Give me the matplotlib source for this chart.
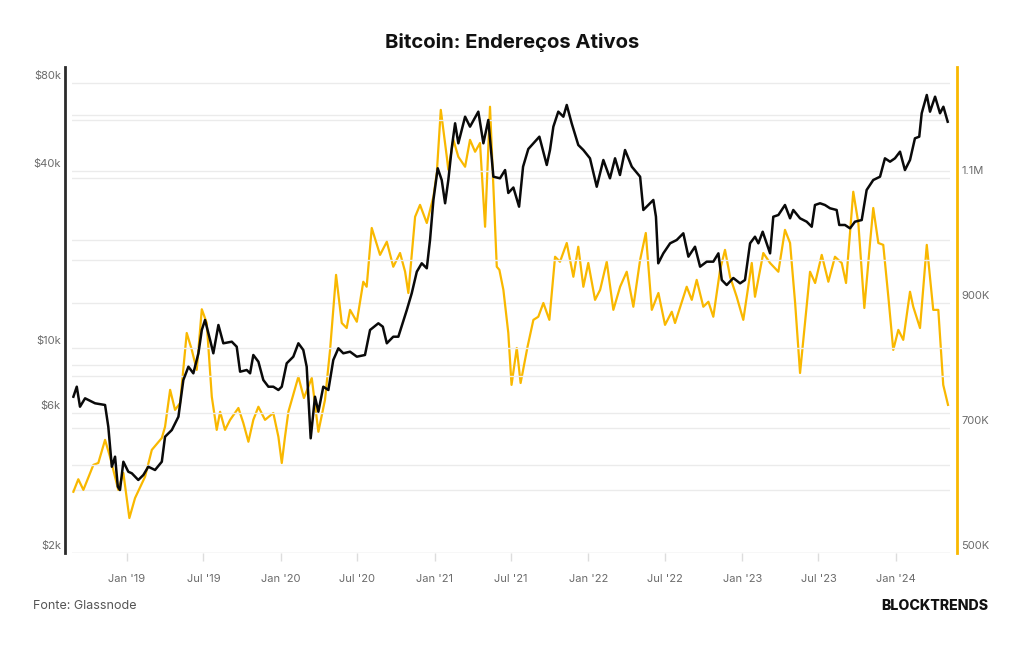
import matplotlib
matplotlib.use("Agg")
import matplotlib.pyplot as plt
import matplotlib.transforms as mtransforms
from matplotlib.ticker import FixedLocator, FixedFormatter, NullLocator
import numpy as np
import pandas as pd

plt.rcParams['font.family'] = ['Inter', 'DejaVu Sans']

# ---- data (decimal year, value) ----
price_years = [2018.651, 2018.673, 2018.694, 2018.727, 2018.792, 2018.857, 2018.878, 2018.901,
               2018.922, 2018.940, 2018.954, 2018.976, 2019.008, 2019.031, 2019.073, 2019.106,
               2019.138, 2019.182, 2019.226, 2019.247, 2019.291, 2019.334, 2019.366, 2019.399,
               2019.431, 2019.464, 2019.486, 2019.507, 2019.540, 2019.561, 2019.594, 2019.626,
               2019.681, 2019.713, 2019.735, 2019.778, 2019.800, 2019.821, 2019.854, 2019.886,
               2019.919, 2019.951, 2019.984, 2020.006, 2020.038, 2020.081, 2020.114, 2020.146,
               2020.168, 2020.194, 2020.222, 2020.244, 2020.276, 2020.309, 2020.341, 2020.374,
               2020.406, 2020.450, 2020.494, 2020.547, 2020.580, 2020.634, 2020.663, 2020.689,
               2020.731, 2020.764, 2020.819, 2020.851, 2020.884, 2020.916, 2020.949, 2020.970,
               2020.992, 2021.020, 2021.046, 2021.068, 2021.089, 2021.111, 2021.133, 2021.154,
               2021.198, 2021.230, 2021.284, 2021.317, 2021.349, 2021.382, 2021.425, 2021.458,
               2021.479, 2021.512, 2021.549, 2021.575, 2021.609, 2021.642, 2021.681, 2021.729,
               2021.750, 2021.772, 2021.804, 2021.837, 2021.859, 2021.891, 2021.934, 2021.967,
               2022.010, 2022.054, 2022.097, 2022.140, 2022.173, 2022.205, 2022.238, 2022.282,
               2022.336, 2022.357, 2022.389, 2022.422, 2022.439, 2022.454, 2022.487, 2022.531,
               2022.574, 2022.617, 2022.650, 2022.693, 2022.726, 2022.769, 2022.812, 2022.845,
               2022.867, 2022.899, 2022.942, 2022.986, 2023.018, 2023.051, 2023.083, 2023.105,
               2023.133, 2023.159, 2023.181, 2023.202, 2023.235, 2023.278, 2023.311, 2023.332,
               2023.376, 2023.419, 2023.452, 2023.473, 2023.506, 2023.538, 2023.571, 2023.614,
               2023.631, 2023.668, 2023.701, 2023.733, 2023.777, 2023.809, 2023.852, 2023.896,
               2023.928, 2023.961, 2023.993, 2024.026, 2024.058, 2024.091, 2024.123, 2024.151,
               2024.167, 2024.200, 2024.221, 2024.254, 2024.286, 2024.308, 2024.336]
price_usd = [6820, 7378, 6306, 6736, 6477, 6392, 5390, 3937,
             4260, 3366, 3279, 4095, 3786, 3739, 3548, 3689,
             3937, 3837, 4095, 4983, 5252, 5830, 7777, 8633,
             8196, 9591, 11517, 12456, 10647, 9591, 11976, 10374,
             10505, 10100, 8300, 8412, 8196, 9464, 8978, 7777,
             7378, 7378, 7190, 7378, 8866, 9338, 10374, 9842,
             8633, 4921, 6820, 6063, 7378, 7190, 9100, 9973,
             9591, 9712, 9338, 9464, 11517, 12136, 11819, 10374,
             10925, 10925, 13474, 15358, 18196, 19440, 18692, 23340,
             31960, 40980, 37380, 31140, 37380, 47940, 58340, 49860,
             61440, 56820, 63920, 49860, 59880, 38360, 37880, 40420,
             33760, 35240, 30320, 41500, 47680, 49860, 52520, 42060,
             47300, 56820, 63920, 61440, 67360, 58340, 49200, 47300,
             44320, 35460, 43740, 37880, 44320, 38880, 47300, 41500,
             38360, 29540, 30720, 31960, 28020, 19440, 21020, 22740,
             23340, 24600, 20480, 22140, 18930, 19690, 19690, 21020,
             17050, 16390, 17320, 16610, 17050, 22740, 23950, 22740,
             24910, 22740, 21020, 28020, 28400, 30720, 27670, 29540,
             27670, 26950, 25900, 30720, 31140, 30720, 29940, 29540,
             26260, 26260, 25580, 26950, 27300, 34560, 37380, 38360,
             44320, 43160, 44320, 46690, 40420, 43740, 51840, 52520,
             63120, 72860, 63920, 71900, 63120, 66440, 59060]

addr_years = [2018.651, 2018.683, 2018.716, 2018.781, 2018.813, 2018.857, 2018.889, 2018.943,
              2018.976, 2019.015, 2019.052, 2019.117, 2019.161, 2019.226, 2019.247, 2019.280,
              2019.312, 2019.345, 2019.388, 2019.421, 2019.453, 2019.486, 2019.518, 2019.551,
              2019.583, 2019.605, 2019.637, 2019.670, 2019.724, 2019.756, 2019.789, 2019.821,
              2019.854, 2019.897, 2019.951, 2019.984, 2020.006, 2020.027, 2020.049, 2020.114,
              2020.150, 2020.201, 2020.244, 2020.287, 2020.320, 2020.359, 2020.396, 2020.428,
              2020.450, 2020.494, 2020.536, 2020.558, 2020.591, 2020.645, 2020.689, 2020.731,
              2020.775, 2020.808, 2020.829, 2020.873, 2020.905, 2020.949, 2020.992, 2021.014,
              2021.040, 2021.079, 2021.089, 2021.122, 2021.154, 2021.198, 2021.230, 2021.263,
              2021.295, 2021.328, 2021.360, 2021.404, 2021.421, 2021.447, 2021.479, 2021.500,
              2021.534, 2021.559, 2021.604, 2021.642, 2021.674, 2021.707, 2021.746, 2021.783,
              2021.815, 2021.859, 2021.902, 2021.934, 2021.967, 2021.999, 2022.043, 2022.076,
              2022.119, 2022.162, 2022.206, 2022.249, 2022.292, 2022.336, 2022.373, 2022.412,
              2022.455, 2022.498, 2022.542, 2022.563, 2022.639, 2022.672, 2022.704, 2022.747,
              2022.780, 2022.812, 2022.856, 2022.888, 2022.921, 2022.964, 2023.007, 2023.062,
              2023.083, 2023.137, 2023.181, 2023.235, 2023.278, 2023.311, 2023.344, 2023.376,
              2023.441, 2023.474, 2023.517, 2023.560, 2023.603, 2023.647, 2023.675, 2023.722,
              2023.755, 2023.794, 2023.831, 2023.852, 2023.885, 2023.917, 2023.950, 2023.982,
              2024.015, 2024.047, 2024.091, 2024.112, 2024.156, 2024.200, 2024.242, 2024.275,
              2024.307, 2024.338]
active_addresses = [598, 618, 601, 641, 644, 681, 654, 601,
                    628, 556, 588, 622, 665, 684, 702, 761,
                    729, 740, 852, 825, 793, 890, 868, 750,
                    697, 726, 697, 713, 732, 708, 678, 713,
                    734, 713, 724, 686, 644, 686, 726, 782,
                    748, 780, 694, 745, 825, 945, 868, 860,
                    889, 870, 934, 926, 1020, 977, 998, 958,
                    980, 950, 916, 1038, 1057, 1028, 1070, 1108,
                    1209, 1134, 1113, 1161, 1134, 1118, 1161, 1142,
                    1156, 1022, 1214, 958, 953, 921, 852, 769,
                    828, 772, 830, 873, 878, 900, 873, 974,
                    966, 996, 942, 990, 926, 964, 905, 921,
                    966, 889, 926, 950, 894, 969, 1012, 889,
                    916, 865, 886, 868, 926, 905, 937, 894,
                    902, 878, 953, 985, 942, 910, 873, 964,
                    910, 980, 964, 950, 1017, 996, 900, 788,
                    950, 932, 977, 934, 974, 964, 932, 1078,
                    1028, 892, 996, 1052, 996, 993, 910, 825,
                    857, 841, 918, 894, 860, 993, 889, 889,
                    769, 737]  # thousands

left_ticks = [2000, 4000, 6000, 8000, 10000, 20000, 40000, 60000, 80000]
left_labels = ['$2k', '', '$6k', '', '$10k', '', '$40k', '', '$80k']
right_ticks = [500, 600, 700, 800, 900, 1000, 1100, 1200]
right_labels = ['500K', '', '700K', '', '900K', '', '1.1M', '']
x_tick_labels = ["Jan '19", "Jul '19", "Jan '20", "Jul '20", "Jan '21", "Jul '21",
                 "Jan '22", "Jul '22", "Jan '23", "Jul '23", "Jan '24"]
x_tick_dates = ['2019-01-01', '2019-07-01', '2020-01-01', '2020-07-01', '2021-01-01',
                '2021-07-01', '2022-01-01', '2022-07-01', '2023-01-01', '2023-07-01',
                '2024-01-01']


def dec_year(s):
    d = pd.Timestamp(s)
    start = pd.Timestamp(year=d.year, month=1, day=1)
    end = pd.Timestamp(year=d.year + 1, month=1, day=1)
    return d.year + (d - start) / (end - start)


x_tick_pos = [dec_year(s) for s in x_tick_dates]

BLACK = '#0a0a0a'
ORANGE = '#F9B800'
GRID = '#ebebeb'
LABEL = '#6b6b6b'

fig = plt.figure(figsize=(10.24, 6.45), dpi=100)
ax = fig.add_axes([72 / 1024, 1 - 553 / 645, (950 - 72) / 1024, (553 - 67) / 645])
ax2 = ax.twinx()

ax2.plot(addr_years, active_addresses, color=ORANGE, lw=1.6, solid_joinstyle='round')
ax.plot(price_years, price_usd, color=BLACK, lw=1.8, solid_joinstyle='round')

ax.set_zorder(ax2.get_zorder() + 1)
ax.patch.set_visible(False)

ax.set_xlim(2018.642, 2024.351)
ax.set_yscale('log')
ax.set_ylim(2000, 90760)
ax2.set_ylim(500, 1277.6)

ax.yaxis.set_major_locator(FixedLocator(left_ticks))
ax.yaxis.set_major_formatter(FixedFormatter(left_labels))
ax.yaxis.set_minor_locator(NullLocator())
ax2.yaxis.set_major_locator(FixedLocator(right_ticks))
ax2.yaxis.set_major_formatter(FixedFormatter(right_labels))

ax.set_xticks(x_tick_pos)
ax.set_xticklabels(x_tick_labels)

ax.grid(axis='y', color=GRID, lw=1.0)
ax2.grid(axis='y', color=GRID, lw=1.0)
ax.set_axisbelow(True)
ax2.set_axisbelow(True)

for a in (ax, ax2):
    for s in a.spines.values():
        s.set_visible(False)

ax.spines['left'].set_visible(True)
ax.spines['left'].set_position(('outward', 5))
ax.spines['left'].set_color('#2b2b2b')
ax.spines['left'].set_linewidth(2.0)
ax2.spines['right'].set_visible(True)
ax2.spines['right'].set_position(('outward', 5))
ax2.spines['right'].set_color(ORANGE)
ax2.spines['right'].set_linewidth(2.0)

ax.tick_params(axis='y', length=0, labelsize=8, labelcolor=LABEL, pad=3)
ax2.tick_params(axis='y', length=0, labelsize=8, labelcolor=LABEL, pad=3)
ax.tick_params(axis='x', length=6, width=1, color='#dddddd', labelsize=8,
               labelcolor=LABEL, pad=9)

shift = mtransforms.ScaledTranslation(0, 6 / 72, fig.dpi_scale_trans)
for lab in ax.get_yticklabels() + ax2.get_yticklabels():
    lab.set_transform(lab.get_transform() + shift)

fig.text(0.5, 1 - 43 / 645, 'Bitcoin: Endereços Ativos', ha='center', va='center',
         fontsize=14.6, fontweight='bold', color='#111111')
fig.text(33 / 1024, 1 - 606 / 645, 'Fonte: Glassnode', ha='left', va='center',
         fontsize=9, color='#555555')
fig.text(988 / 1024, 1 - 606 / 645, 'BLOCKTRENDS', ha='right', va='center',
         fontsize=10.2, fontweight='heavy', color='#111111')

fig.savefig('out.png', dpi=100, facecolor='white')
